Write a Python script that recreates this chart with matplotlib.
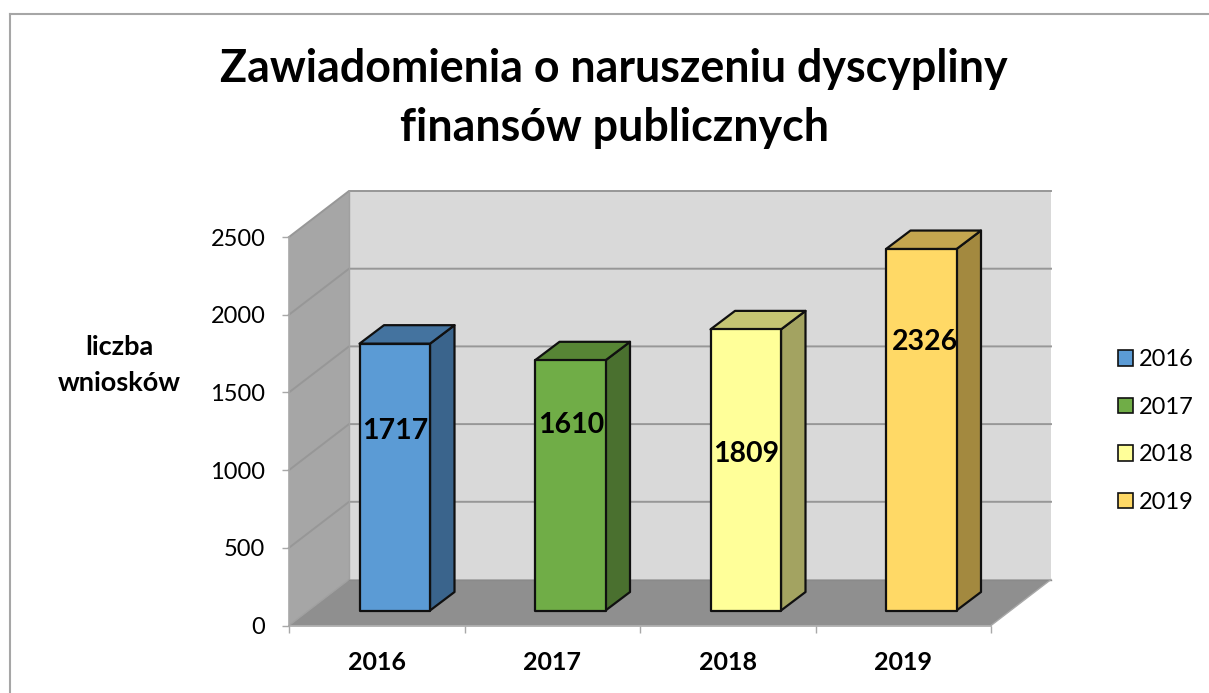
# Zawiadomienia o naruszeniu dyscypliny - 3D style column chart

import matplotlib
matplotlib.use("Agg")
import matplotlib.pyplot as plt
from matplotlib.lines import Line2D
from matplotlib.patches import Patch, Polygon

plt.rcParams["font.family"] = ["Lato", "DejaVu Sans"]

# -------------------------------------------------
# 1. Data
# -------------------------------------------------
years = ["2016", "2017", "2018", "2019"]
values = [1717, 1610, 1809, 2326]
y_ticks = [0, 500, 1000, 1500, 2000, 2500]

front_colors = ["#5B9BD5", "#70AD47", "#FFFF99", "#FFD966"]
top_colors = ["#44739F", "#578535", "#C4C473", "#C4A64F"]
side_colors = ["#3A648C", "#4A702F", "#A3A361", "#A3893F"]

# hand placed heights of the value labels, in axis units
label_heights = [1250, 1288, 1102, 1823]
label_shift = [0, 0.005, 0, 0.02]

# -------------------------------------------------
# 2. Figure and the front plane of the box
# -------------------------------------------------
W, H = 1209, 693
fig = plt.figure(figsize=(W / 100, H / 100), dpi=100)
ax = fig.add_axes([289 / W, 1 - 625.5 / H, 702 / W, 388.5 / H])
ax.set_xlim(0, 4)
ax.set_ylim(0, 2500)
ax.patch.set_visible(False)

# depth of the box in axis units
box_dx = 60 / 175.5
box_dy = 46 / 0.1554
# bars stand on the floor, set back from the front edge
bar_x = 70.5 / 175.5
bar_w = 70.5 / 175.5
bar_y = 15 / 0.1554
bar_dx = 24.5 / 175.5
bar_dy = 18.5 / 0.1554


def poly(points, color, edge="none", lw=0.0, z=1):
    ax.add_patch(Polygon(points, closed=True, facecolor=color, edgecolor=edge,
                         linewidth=lw, joinstyle="round", clip_on=False, zorder=z))


# walls and floor
top = y_ticks[-1]
poly([(0, 0), (box_dx, box_dy), (box_dx, top + box_dy), (0, top)], "#A6A6A6")
poly([(box_dx, box_dy), (4 + box_dx, box_dy), (4 + box_dx, top + box_dy), (box_dx, top + box_dy)], "#D9D9D9")
poly([(0, 0), (4, 0), (4 + box_dx, box_dy), (box_dx, box_dy)], "#8F8F8F")

# gridlines run over left wall and back wall
grid = "#979797"
for v in y_ticks[1:]:
    ax.plot([0, box_dx, 4 + box_dx], [v, v + box_dy, v + box_dy], color=grid, lw=1.4,
            clip_on=False, zorder=2, solid_joinstyle="miter")
ax.plot([0, box_dx], [0, box_dy], color="#A0A0A0", lw=1.0, clip_on=False, zorder=2)
ax.plot([box_dx, box_dx], [box_dy, top + box_dy], color="#A0A0A0", lw=1.0, clip_on=False, zorder=2)
ax.plot([box_dx, 4 + box_dx], [box_dy, box_dy], color="#8A8A8A", lw=1.0, clip_on=False, zorder=2)
ax.plot([4, 4 + box_dx], [0, box_dy], color="#A8A8A8", lw=1.0, clip_on=False, zorder=2)

# -------------------------------------------------
# 3. Bars
# -------------------------------------------------
for i, v in enumerate(values):
    x0 = i + bar_x
    x1 = x0 + bar_w
    y0 = bar_y
    y1 = bar_y + v
    poly([(x1, y0), (x1 + bar_dx, y0 + bar_dy), (x1 + bar_dx, y1 + bar_dy), (x1, y1)],
         side_colors[i], "#101010", 1.6, 3)
    poly([(x0, y1), (x1, y1), (x1 + bar_dx, y1 + bar_dy), (x0 + bar_dx, y1 + bar_dy)],
         top_colors[i], "#101010", 1.6, 3)
    poly([(x0, y0), (x1, y0), (x1, y1), (x0, y1)], front_colors[i], "#101010", 1.6, 4)
    ax.text(x0 + bar_w / 2 + label_shift[i], label_heights[i], str(v), ha="center", va="center",
            fontsize=20.5, fontweight="bold", color="black", zorder=5)

# -------------------------------------------------
# 4. Axes, ticks, labels
# -------------------------------------------------
for name in ["top", "right"]:
    ax.spines[name].set_visible(False)
for name in ["left", "bottom"]:
    ax.spines[name].set_color("#A8A8A8")
    ax.spines[name].set_linewidth(1.2)
    ax.spines[name].set_zorder(2)

ax.set_yticks(y_ticks)
ax.set_yticklabels([str(t) for t in y_ticks])
ax.set_xticks(range(5))
ax.set_xticklabels([])
ax.set_xticks([i + 0.5 for i in range(4)], minor=True)
ax.set_xticklabels(years, minor=True, fontsize=18, fontweight="bold")
ax.tick_params(axis="y", length=5, width=1.0, color="#A8A8A8", labelsize=17, pad=12)
ax.tick_params(axis="x", which="major", length=5, width=1.0, color="#A8A8A8")
ax.tick_params(axis="x", which="minor", length=0, pad=18)

fig.text(119 / W, 1 - 365 / H, "liczba\nwniosków", ha="center", va="center",
         fontsize=19.5, fontweight="bold", linespacing=1.6)

fig.text(614 / W, 1 - 98.5 / H, "Zawiadomienia o naruszeniu dyscypliny\nfinansów publicznych",
         ha="center", va="center", fontsize=32.2, fontweight="bold", linespacing=1.48)

handles = [Patch(facecolor=c, edgecolor="#101010", linewidth=1.2, label=y)
           for c, y in zip(front_colors, years)]
fig.legend(handles=handles, loc="center left", bbox_to_anchor=(1111 / W, 1 - 431 / H), frameon=False,
           fontsize=17, handlelength=0.62, handleheight=0.62, handletextpad=0.25,
           labelspacing=1.12, borderpad=0.3, borderaxespad=0)

# chart frame, cut off on the right and at the bottom
frame = "#A6A6A6"
fig.add_artist(Line2D([10 / W, 10 / W], [0, 1 - 14 / H], color=frame, lw=1.5))
fig.add_artist(Line2D([10 / W, 1], [1 - 14 / H, 1 - 14 / H], color=frame, lw=1.5))

fig.savefig("out.png", dpi=100)
